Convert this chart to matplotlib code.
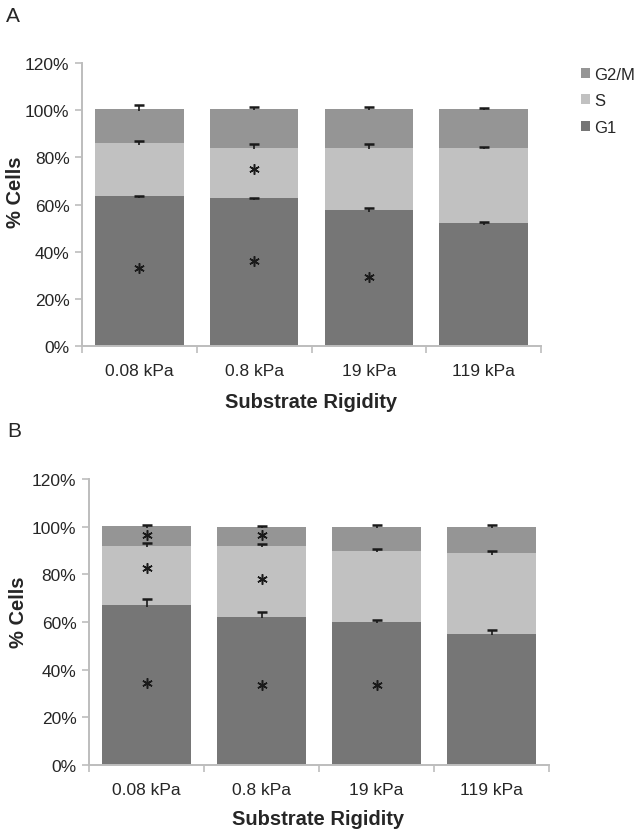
import matplotlib
matplotlib.use("Agg")
import matplotlib.pyplot as plt
import numpy as np
from matplotlib.patches import Patch

plt.rcParams['font.family'] = ['Liberation Sans', 'DejaVu Sans']

categories = ["0.08 kPa", "0.8 kPa", "19 kPa", "119 kPa"]
series_names = ["G1", "S", "G2/M"]
y_ticks = [0, 20, 40, 60, 80, 100, 120]
y_tick_labels = ["0%", "20%", "40%", "60%", "80%", "100%", "120%"]

# Panel A
a_g1 = [63.4, 62.6, 57.6, 52.1]
a_s = [22.6, 21.5, 26.5, 32.0]
a_g2m = [14.4, 16.6, 16.5, 16.6]
a_g1_err = [0.3, 0.3, 0.8, 0.6]
a_s_err = [1.1, 1.5, 1.4, 0.3]
a_g2m_err = [1.7, 0.8, 0.8, 0.3]
# asterisks: (category index, y value in %)
a_star_x = [0, 1, 1, 2]
a_star_y = [33.0, 36.0, 75.0, 29.3]

# Panel B
b_g1 = [67.1, 62.2, 60.2, 55.1]
b_s = [24.9, 29.7, 29.7, 33.8]
b_g2m = [8.2, 8.1, 10.1, 11.1]
b_g1_err = [2.4, 2.2, 0.8, 1.4]
b_s_err = [1.0, 1.0, 0.7, 0.7]
b_g2m_err = [0.5, 0.4, 0.5, 0.5]
b_star_x = [0, 0, 0, 1, 1, 1, 2]
b_star_y = [96.3, 82.6, 34.6, 96.7, 78.1, 33.6, 33.6]

colors = {"G1": "#767676", "S": "#c1c1c1", "G2/M": "#959595"}
axis_color = "#bdbdbd"
text_color = "#262626"
err_color = "#1a1a1a"

W, H = 644, 837
fig = plt.figure(figsize=(W / 100, H / 100), dpi=100)


def panel(rect, g1, s, g2m, e1, es, eg, sx, sy):
    ax = fig.add_axes(rect)
    x = np.arange(len(categories))
    width = 1 / 1.3
    ax.bar(x, g1, width, color=colors["G1"], zorder=2)
    ax.bar(x, s, width, bottom=g1, color=colors["S"], zorder=2)
    b2 = np.array(g1) + np.array(s)
    ax.bar(x, g2m, width, bottom=b2, color=colors["G2/M"], zorder=2)
    tops = [np.array(g1), b2, b2 + np.array(g2m)]
    for t, e in zip(tops, [e1, es, eg]):
        hi = t + np.array(e)
        ax.vlines(x, t - 0.6, hi, color=err_color, linewidth=1.2, zorder=3)
        ax.plot(x, hi, linestyle='none', marker='_', markersize=6.5,
                markeredgewidth=1.8, color=err_color, zorder=3)
    ax.plot(sx, sy, linestyle='none', marker=(6, 2, 0), markersize=7.5,
            markeredgewidth=1.1, color=err_color, zorder=4)
    ax.set_xlim(-0.5, len(categories) - 0.5)
    ax.set_ylim(0, 120)
    ax.set_yticks(y_ticks)
    ax.set_yticklabels(y_tick_labels)
    ax.set_xticks(x)
    ax.set_xticklabels(categories)
    ax.set_xticks(np.arange(len(categories) + 1) - 0.5, minor=True)
    ax.tick_params(axis='x', which='major', length=0, pad=12,
                   labelsize=12.5, labelcolor=text_color)
    ax.tick_params(axis='x', which='minor', length=5, width=1.2,
                   color=axis_color, direction='out')
    ax.tick_params(axis='y', length=5, width=1.2, color=axis_color,
                   pad=4, labelsize=12.5, labelcolor=text_color)
    for sp in ['top', 'right']:
        ax.spines[sp].set_visible(False)
    for sp in ['left', 'bottom']:
        ax.spines[sp].set_color(axis_color)
        ax.spines[sp].set_linewidth(1.4)
    return ax


axA = panel([82 / W, 1 - 347 / H, 459 / W, 283 / H],
            a_g1, a_s, a_g2m, a_g1_err, a_s_err, a_g2m_err, a_star_x, a_star_y)
axB = panel([89 / W, 1 - 766 / H, 460 / W, 286 / H],
            b_g1, b_s, b_g2m, b_g1_err, b_s_err, b_g2m_err, b_star_x, b_star_y)

# axis labels
fig.text(311 / W, 1 - 403 / H, "Substrate Rigidity", ha='center', va='center',
         fontsize=14.5, fontweight='bold', color=text_color)
fig.text(318 / W, 1 - 820 / H, "Substrate Rigidity", ha='center', va='center',
         fontsize=14.5, fontweight='bold', color=text_color)
fig.text(16 / W, 1 - 192 / H, "% Cells", ha='center', va='center', rotation=90,
         fontsize=14.5, fontweight='bold', color=text_color)
fig.text(18 / W, 1 - 612 / H, "% Cells", ha='center', va='center', rotation=90,
         fontsize=14.5, fontweight='bold', color=text_color)

# panel letters
fig.text(6 / W, 1 - 16 / H, "A", ha='left', va='center', fontsize=15, color=text_color)
fig.text(7 / W, 1 - 432 / H, "B", ha='left', va='center', fontsize=15, color=text_color)

# legend
handles = [Patch(facecolor=colors[n], edgecolor='none') for n in ["G2/M", "S", "G1"]]
fig.legend(handles, ["G2/M", "S", "G1"], loc='upper left',
           bbox_to_anchor=(581 / W, 1 - 68 / H), frameon=False, fontsize=12,
           handlelength=0.55, handleheight=0.55, handletextpad=0.25,
           labelspacing=0.68, borderpad=0, borderaxespad=0,
           labelcolor=text_color)

fig.savefig("out.png", dpi=100)
